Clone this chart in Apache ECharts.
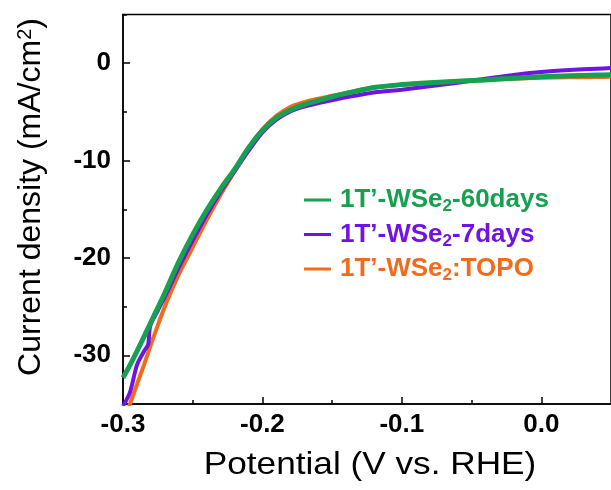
<!DOCTYPE html>
<html>
<head>
<meta charset="utf-8">
<script src="https://cdn.jsdelivr.net/npm/echarts@6/dist/echarts.min.js"></script>
<style>html,body{margin:0;padding:0;background:#fff}#c{width:611px;height:490px}</style>
</head>
<body>
<div id="c"></div>
<script>
// ---- data ----
const seriesNames = ['1T’-WSe2-60days', '1T’-WSe2-7days', '1T’-WSe2:TOPO'];
const xMajorTicks = [-0.3, -0.2, -0.1, 0.0];
const xMinorTicks = [-0.25, -0.15, -0.05];
const yMajorTicks = [0, -10, -20, -30];
const yMinorTicks = [5, -5, -15, -25];

const potentialGreen = [-0.300,-0.295,-0.290,-0.285,-0.280,-0.275,-0.270,-0.260,-0.250,-0.240,-0.230,-0.220,-0.210,-0.200,-0.190,-0.180,-0.170,-0.160,-0.150,-0.140,-0.120,-0.100,-0.080,-0.060,-0.040,-0.020,0.000,0.020,0.040,0.050];
const currentGreen   = [-32.3,-31.0,-29.6,-28.1,-26.6,-25.1,-23.6,-20.4,-17.6,-15.1,-12.9,-10.9,-8.7,-6.9,-5.6,-4.8,-4.25,-3.85,-3.45,-3.1,-2.5,-2.2,-2.0,-1.85,-1.72,-1.55,-1.4,-1.3,-1.22,-1.19];

const potentialPurple = [-0.300,-0.295,-0.290,-0.285,-0.282,-0.2805,-0.275,-0.270,-0.260,-0.250,-0.240,-0.230,-0.220,-0.210,-0.200,-0.190,-0.180,-0.170,-0.160,-0.150,-0.140,-0.120,-0.100,-0.080,-0.060,-0.040,-0.020,0.000,0.020,0.040,0.050];
const currentPurple   = [-35.2,-33.8,-31.0,-29.6,-28.9,-27.0,-25.4,-24.0,-21.0,-18.2,-15.6,-13.2,-11.1,-9.0,-7.1,-5.8,-4.95,-4.45,-4.1,-3.8,-3.5,-3.0,-2.72,-2.38,-2.0,-1.6,-1.2,-0.9,-0.7,-0.56,-0.5];

const potentialOrange = [-0.300,-0.295,-0.290,-0.285,-0.280,-0.275,-0.270,-0.260,-0.250,-0.240,-0.230,-0.220,-0.210,-0.200,-0.190,-0.180,-0.170,-0.160,-0.150,-0.140,-0.120,-0.100,-0.080,-0.060,-0.040,-0.020,0.000,0.020,0.040,0.050];
const currentOrange   = [-37.0,-35.0,-33.0,-31.0,-28.9,-26.9,-25.0,-21.7,-18.9,-16.1,-13.5,-11.1,-8.7,-6.8,-5.4,-4.5,-4.0,-3.65,-3.35,-3.05,-2.5,-2.2,-2.0,-1.85,-1.72,-1.6,-1.5,-1.45,-1.42,-1.4];

// ---- styling ----
const GREEN = '#17a04f', PURPLE = '#7013e3', ORANGE = '#f26a1b';
const FONT = '"Liberation Sans", Arial, Helvetica, sans-serif';
const zip = (xs, ys) => xs.map((x, i) => [x, ys[i]]);

const chart = echarts.init(document.getElementById('c'), null, {renderer: 'canvas'});
const GRID = {left: 123, top: 14.5, width: 490, height: 389.5};

const commonTick = {show: true, inside: true, lineStyle: {color: '#000', width: 1.5}};

chart.setOption({
  animation: false,
  backgroundColor: '#fff',
  grid: Object.assign({show: true, borderColor: '#000', borderWidth: 1.5, backgroundColor: 'transparent'}, GRID),
  xAxis: [{
    type: 'value', min: -0.3, max: 0.05, position: 'bottom',
    axisLine: {show: true, onZero: false, lineStyle: {color: '#000', width: 1.5}},
    axisTick: Object.assign({length: 7, customValues: xMajorTicks}, commonTick),
    axisLabel: {customValues: xMajorTicks, color: '#000', fontFamily: FONT, fontWeight: 'bold', fontSize: 26, margin: 8,
      formatter: v => (Math.abs(v) < 1e-9 ? 0 : v).toFixed(1)},
    splitLine: {show: false}
  }, {
    type: 'value', min: -0.3, max: 0.05, position: 'bottom',
    axisLine: {show: false, onZero: false},
    axisTick: Object.assign({length: 4, customValues: xMinorTicks}, commonTick),
    axisLabel: {show: false}, splitLine: {show: false}
  }],
  yAxis: [{
    type: 'value', min: -35, max: 5, position: 'left',
    axisLine: {show: true, onZero: false, lineStyle: {color: '#000', width: 1.5}},
    axisTick: Object.assign({length: 7, customValues: yMajorTicks}, commonTick),
    axisLabel: {customValues: yMajorTicks, color: '#000', fontFamily: FONT, fontWeight: 'bold', fontSize: 26, margin: 12},
    splitLine: {show: false}
  }, {
    type: 'value', min: -35, max: 5, position: 'left', offset: 0,
    axisLine: {show: false, onZero: false},
    axisTick: Object.assign({length: 4, customValues: yMinorTicks}, commonTick),
    axisLabel: {show: false}, splitLine: {show: false}
  }],
  legend: {
    orient: 'vertical', left: 299, top: 180, itemGap: 4.5,
    icon: 'rect', itemWidth: 27, itemHeight: 3,
    data: [
      {name: seriesNames[0], textStyle: {color: GREEN}},
      {name: seriesNames[1], textStyle: {color: PURPLE}},
      {name: seriesNames[2], textStyle: {color: ORANGE}}
    ],
    formatter: n => n.replace('WSe2', 'WSe{s|2}'),
    textStyle: {fontFamily: FONT, fontWeight: 'bold', fontSize: 26, lineHeight: 30, padding: [0, 0, 0, 4],
      rich: {s: {fontFamily: FONT, fontWeight: 'bold', fontSize: 17, lineHeight: 16, verticalAlign: 'bottom'}}}
  },
  graphic: [{
    type: 'text', x: 31, y: 197, rotation: Math.PI / 2,
    style: {
      text: 'Current density (mA/cm{p|2})', fill: '#000',
      fontFamily: FONT, fontSize: 32, align: 'center', verticalAlign: 'middle',
      rich: {p: {fontFamily: FONT, fontSize: 20, verticalAlign: 'top', lineHeight: 20, fill: '#000'}}
    }
  }, {
    type: 'text', x: 370, y: 465, scaleX: 1.1,
    style: {
      text: 'Potential (V vs. RHE)', fill: '#000',
      fontFamily: FONT, fontSize: 32, align: 'center', verticalAlign: 'middle'
    }
  }],
  series: [
    {name: seriesNames[2], type: 'line', data: zip(potentialOrange, currentOrange), showSymbol: false, smooth: 0.3, clip: true,
      lineStyle: {color: ORANGE, width: 4}, itemStyle: {color: ORANGE}, z: 2},
    {name: seriesNames[1], type: 'line', data: zip(potentialPurple, currentPurple), showSymbol: false, smooth: 0.3, clip: true,
      lineStyle: {color: PURPLE, width: 4}, itemStyle: {color: PURPLE}, z: 3},
    {name: seriesNames[0], type: 'line', data: zip(potentialGreen, currentGreen), showSymbol: false, smooth: 0.3, clip: true,
      lineStyle: {color: GREEN, width: 5}, itemStyle: {color: GREEN}, z: 4}
  ]
});
</script>
</body>
</html>
